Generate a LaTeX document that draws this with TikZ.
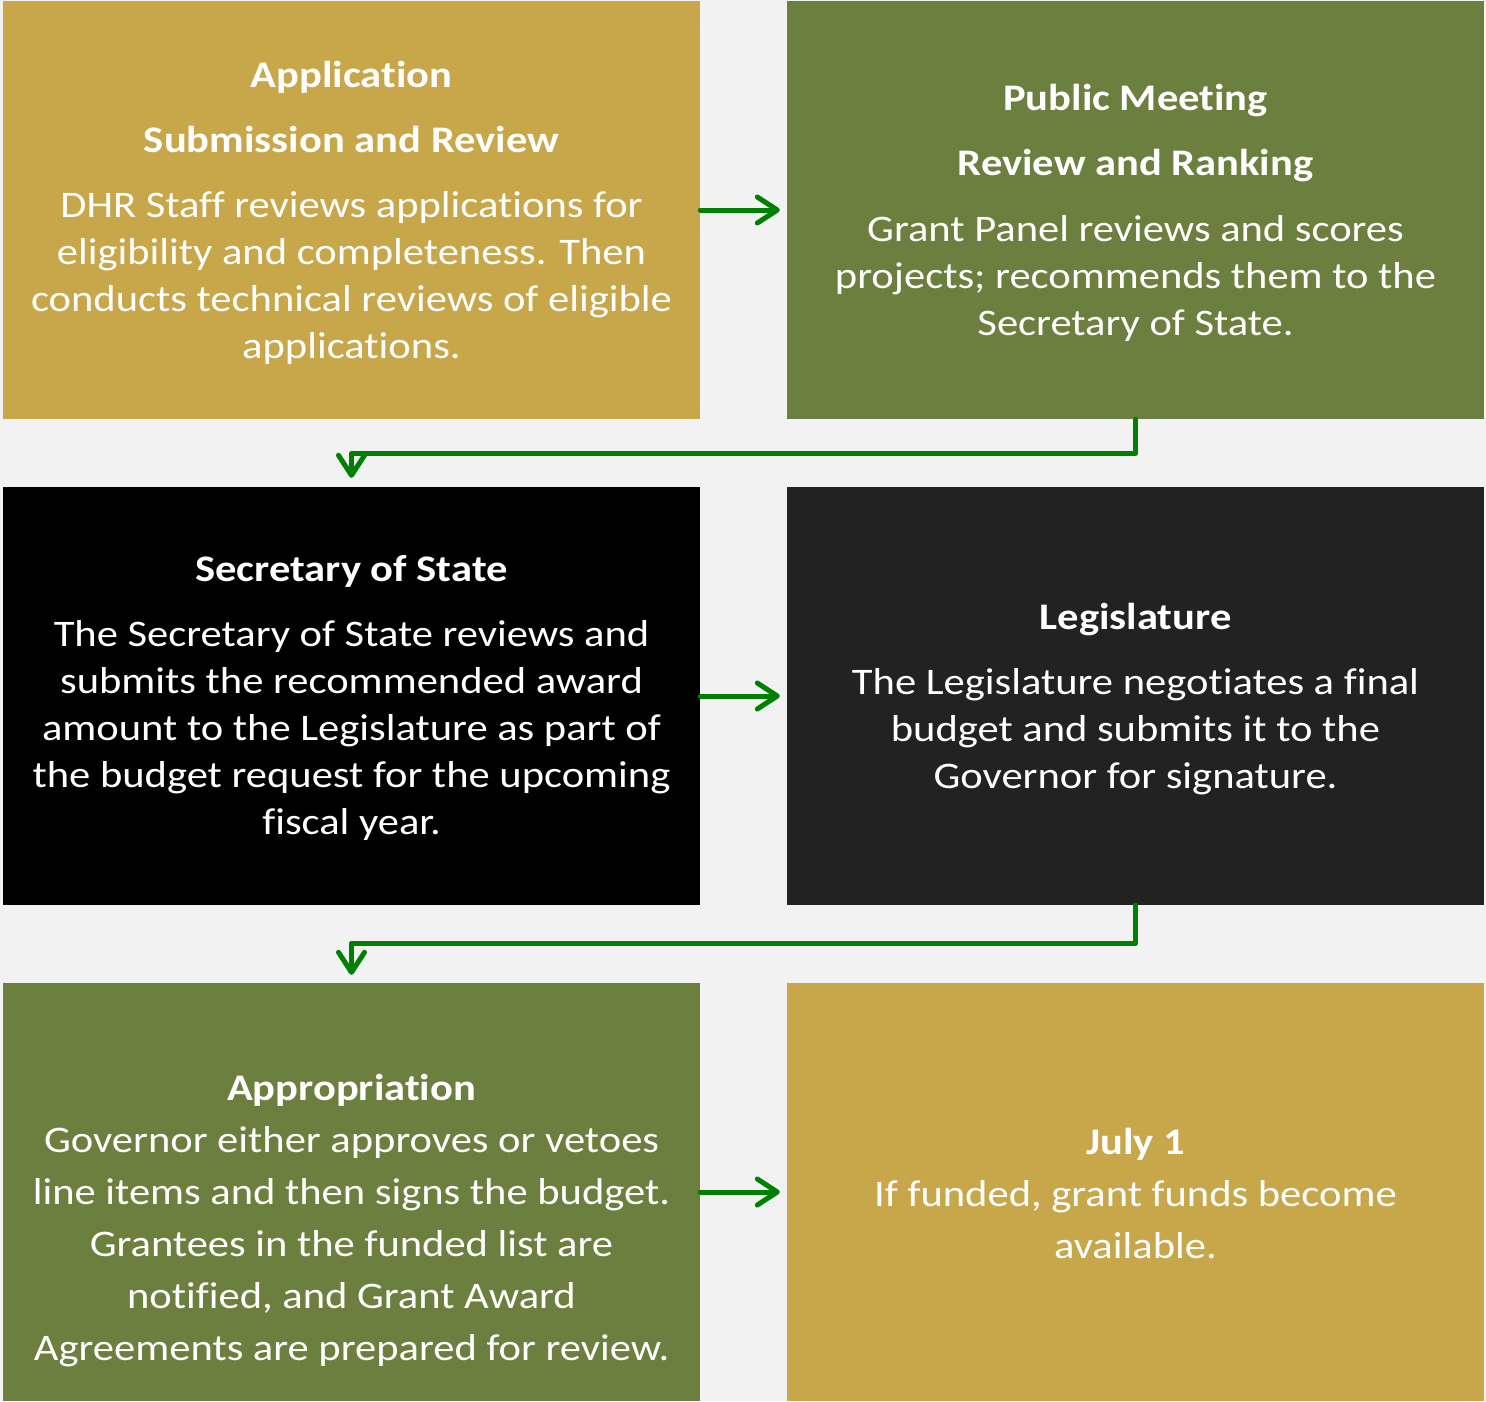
\documentclass[tikz,border=0pt]{standalone}
\usepackage{fontspec}
\setmainfont{Carlito}[FakeStretch=1.135,Ligatures={NoCommon,NoContextual}]
\usetikzlibrary{arrows.meta}
\definecolor{bgc}{HTML}{F2F2F2}
\definecolor{gold}{HTML}{C8A64A}
\definecolor{olive}{HTML}{6B7F3E}
\definecolor{dgray}{HTML}{222222}
\definecolor{arrgreen}{HTML}{008000}
\tikzset{
  box/.style={rectangle, draw=none, inner sep=0pt, minimum width=697pt, minimum height=418pt},
  txt/.style={text=white, align=center, inner sep=0pt, font=\fontsize{37.5}{47}\selectfont},
  txtb/.style={text=white, align=center, inner sep=0pt, font=\fontsize{37.5}{52}\selectfont},
  arr/.style={draw=arrgreen, line width=5pt, line cap=round, line join=round,
    -{Straight Barb[length=20pt,width=26pt,round]}},
}
\newcommand{\ttl}[1]{{\bfseries #1}}
\begin{document}
\begin{tikzpicture}[x=1pt,y=1pt]
\fill[bgc] (0,0) rectangle (1486,-1401);
\useasboundingbox (0,0) rectangle (1486,-1401);
% boxes
\node[box, fill=gold]  (b1) at (351.5,-210) {};
\node[box, fill=olive] (b2) at (1135.5,-210) {};
\node[box, fill=black] (b3) at (351.5,-696) {};
\node[box, fill=dgray] (b4) at (1135.5,-696) {};
\node[box, fill=olive] (b5) at (351.5,-1192) {};
\node[box, fill=gold]  (b6) at (1135.5,-1192) {};
% texts
\node[txt] (t1) at (351.5,-213) {\ttl{Application}\\[18pt]\ttl{Submission and Review}\\[18pt]DHR Staff reviews applications for\\eligibility and completeness. Then\\conducts technical reviews of eligible\\applications.};
\node[txt] (t2) at (1135.5,-213) {\ttl{Public Meeting}\\[18pt]\ttl{Review and Ranking}\\[19pt]Grant Panel reviews and scores\\projects; recommends them to the\\Secretary of State.};
\node[txt] (t3) at (351.5,-698) {\ttl{Secretary of State}\\[18pt]The Secretary of State reviews and\\submits the recommended award\\amount to the Legislature as part of\\the budget request for the upcoming\\fiscal year.};
\node[txt] (t4) at (1135.5,-699) {\ttl{Legislature}\\[18pt]The Legislature negotiates a final\\budget and submits it to the\\Governor for signature.};
\node[txtb] (t5) at (351.5,-1221) {\ttl{Appropriation}\\Governor either approves or vetoes\\line items and then signs the budget.\\Grantees in the funded list are\\notified, and Grant Award\\Agreements are prepared for review.};
\node[txtb] (t6) at (1135.5,-1193) {\ttl{July 1}\\If funded, grant funds become\\available.};
% connectors
\draw[arr] (b1.east) -- ([xshift=-7pt]b2.west);
\draw[arr] (b3.east) -- ([xshift=-7pt]b4.west);
\draw[arr] (b5.east) -- ([xshift=-7pt]b6.west);
\draw[arr] (b2.south) -- ++(0,-34) -| ([yshift=9pt]b3.north);
\draw[arr] (b4.south) -- ++(0,-38) -| ([yshift=8pt]b5.north);
\end{tikzpicture}
\end{document}
